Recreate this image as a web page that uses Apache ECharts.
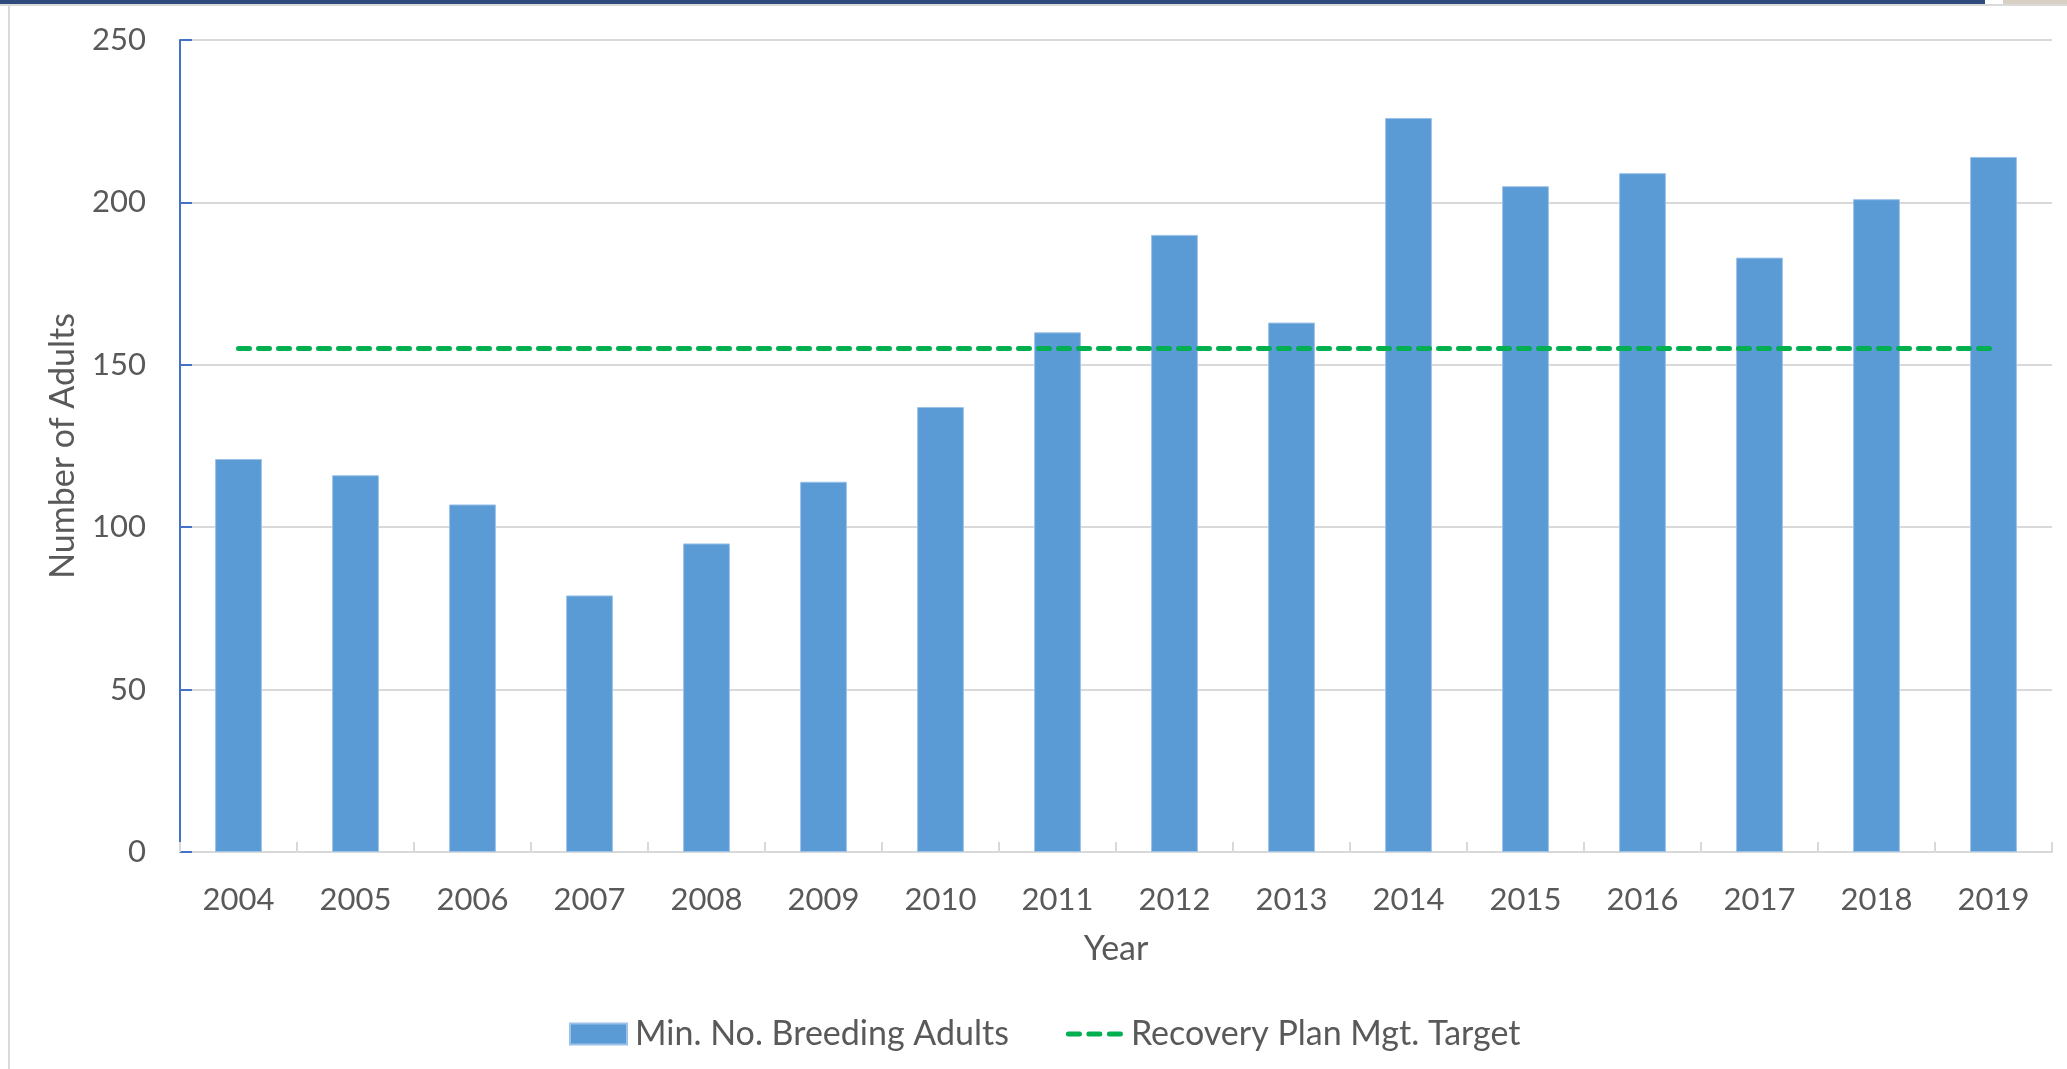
<!DOCTYPE html>
<html>
<head>
<meta charset="utf-8">
<script src="https://cdn.jsdelivr.net/npm/echarts@6/dist/echarts.min.js"></script>
<style>
html,body{margin:0;padding:0;background:#fff;}
#c{width:2067px;height:1069px;}
</style>
</head>
<body>
<div id="c"></div>
<script>
const years = ['2004','2005','2006','2007','2008','2009','2010','2011','2012','2013','2014','2015','2016','2017','2018','2019'];
const breedingAdults = [121,116,107,79,95,114,137,160,190,163,226,205,209,183,201,214];
const recoveryTarget = [155,155,155,155,155,155,155,155,155,155,155,155,155,155,155,155];
const yTicks = {min:0, max:250, interval:50};

const FONT = 'Lato';
const TXT = '#595959';
const dashIcon = 'path://M0,0h0.01v0.01h-0.01Z M0,21h0.01v0.01h-0.01Z ' +
  'M2.5,8h11a2.5,2.5 0 0 1 0,5h-11a2.5,2.5 0 0 1 0,-5Z ' +
  'M23,8h11a2.5,2.5 0 0 1 0,5h-11a2.5,2.5 0 0 1 0,-5Z ' +
  'M43.5,8h11a2.5,2.5 0 0 1 0,5h-11a2.5,2.5 0 0 1 0,-5Z M57,0h0.01v0.01h-0.01Z';
const chart = echarts.init(document.getElementById('c'), null, {renderer:'canvas'});
chart.setOption({
  backgroundColor:'#ffffff',
  animation:false,
  textStyle:{fontFamily:FONT},
  graphic:[
    {type:'rect', shape:{x:0,y:0,width:1985,height:4}, style:{fill:'#2F4B7C'}, silent:true},
    {type:'rect', shape:{x:2003,y:0,width:64,height:4}, style:{fill:'#D8D0C4'}, silent:true},
    {type:'rect', shape:{x:0,y:4,width:2067,height:2}, style:{fill:'#DADADA'}, silent:true},
    {type:'rect', shape:{x:8,y:4,width:2,height:1065}, style:{fill:'#DADADA'}, silent:true}
  ],
  grid:{left:180, right:15, top:40, bottom:217, containLabel:false},
  legend:{
    left:564, top:1012,
    itemWidth:57, itemHeight:21, itemGap:57,
    textStyle:{color:TXT, fontSize:34, fontFamily:FONT, padding:[0,0,0,3]},
    data:[
      {name:'Min. No. Breeding Adults', icon:'rect'},
      {name:'Recovery Plan Mgt. Target', icon:dashIcon, itemStyle:{color:'#00B050'}}
    ]
  },
  xAxis:{
    type:'category',
    data:years,
    boundaryGap:true,
    name:'Year',
    nameLocation:'middle',
    nameGap:80,
    nameTextStyle:{color:TXT, fontSize:34, fontFamily:FONT},
    axisLine:{show:true, lineStyle:{color:'#D9D9D9', width:2}},
    axisTick:{show:true, inside:true, length:10, lineStyle:{color:'#D9D9D9', width:2}},
    axisLabel:{color:TXT, fontSize:31, fontFamily:FONT, margin:32},
    splitLine:{show:false}
  },
  yAxis:{
    type:'value',
    min:yTicks.min, max:yTicks.max, interval:yTicks.interval,
    name:'Number of Adults',
    nameLocation:'middle',
    nameGap:100,
    nameTextStyle:{color:TXT, fontSize:34, fontFamily:FONT},
    axisLine:{show:true, lineStyle:{color:'#4472C4', width:2}},
    axisTick:{show:true, inside:true, length:12, lineStyle:{color:'#4472C4', width:2}},
    axisLabel:{color:TXT, fontSize:31, fontFamily:FONT, margin:34},
    splitLine:{show:true, lineStyle:{color:'#D9D9D9', width:2}}
  },
  series:[
    {
      name:'Min. No. Breeding Adults',
      type:'bar',
      data:breedingAdults,
      barWidth:'40%',
      itemStyle:{color:'#5B9BD5', borderColor:'#9CC2E8', borderWidth:1},
      z:2
    },
    {
      name:'Recovery Plan Mgt. Target',
      type:'line',
      data:recoveryTarget,
      symbol:'none',
      lineStyle:{color:'#00B050', width:5, type:[11,9], cap:'round'},
      itemStyle:{color:'#00B050'},
      z:3
    }
  ]
});
</script>
</body>
</html>
